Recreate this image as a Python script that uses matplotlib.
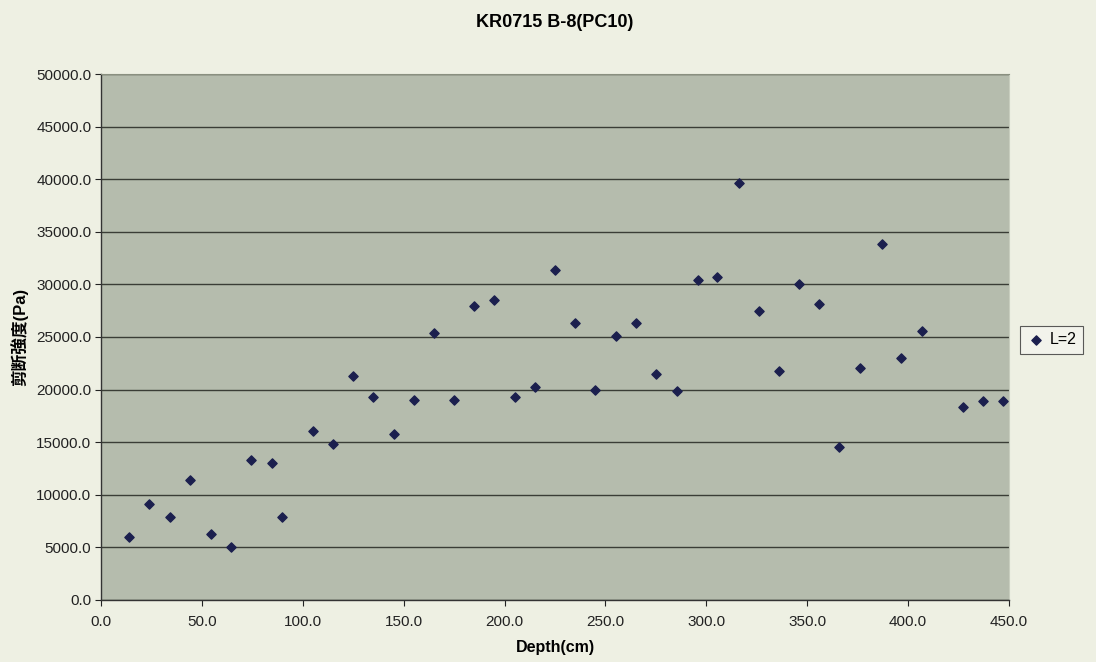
import matplotlib.pyplot as plt
from matplotlib.ticker import MultipleLocator, FormatStrFormatter

plt.rcParams['font.family'] = ['Liberation Sans', 'Noto Sans CJK JP', 'DejaVu Sans']

# depth (cm) and shear strength (Pa), vane L=2
depth = [14, 24, 34, 44, 54.5, 64.5, 74.5, 84.5, 89.5, 105, 115, 125, 135, 145,
         155, 165, 175, 185, 195, 205, 215, 225, 235, 245, 255, 265, 275, 285.5,
         296, 305.5, 316, 326, 336, 346, 356, 366, 376, 387, 396.5, 407, 427, 437, 447]
strength = [6000, 9170, 7900, 11400, 6300, 5060, 13300, 13000, 7900, 16100, 14850,
            21250, 19300, 15800, 19000, 25350, 19000, 27950, 28500, 19250, 20250,
            31400, 26300, 19950, 25050, 26300, 21500, 19900, 30400, 30700, 39650,
            27500, 21750, 30000, 28100, 14550, 22050, 33850, 23050, 25600, 18300,
            18900, 18900]

title = 'KR0715 B-8(PC10)'
series_name = 'L=2'

fig = plt.figure(figsize=(10.96, 6.62), dpi=100, facecolor='#eef0e3')
ax = fig.add_axes([0.0922, 0.0937, 0.8284, 0.7945])
ax.set_facecolor('#b5bcad')

ax.scatter(depth, strength, marker='D', s=22, color='#1b1f4e', zorder=3,
           label=series_name)

ax.set_xlim(0, 450)
ax.set_ylim(0, 50000)
ax.xaxis.set_major_locator(MultipleLocator(50))
ax.yaxis.set_major_locator(MultipleLocator(5000))
ax.xaxis.set_major_formatter(FormatStrFormatter('%.1f'))
ax.yaxis.set_major_formatter(FormatStrFormatter('%.1f'))
ax.tick_params(direction='out', length=4, width=0.8, labelsize=11,
               colors='#222222', pad=3)
ax.tick_params(axis='x', pad=7)

ax.grid(axis='y', color='#3a3d36', linewidth=1.0)
ax.set_axisbelow(True)
for side in ['left', 'bottom']:
    ax.spines[side].set_color('#333333')
    ax.spines[side].set_linewidth(1.0)
ax.spines['top'].set_color('#8a9080')
ax.spines['right'].set_color('#c8cebf')

ax.set_title(title, fontsize=13, fontweight='bold', pad=34)
ax.set_xlabel('Depth(cm)', fontsize=11.5, fontweight='bold', labelpad=8)
ax.set_ylabel('剪断強度(Pa)', fontsize=12, fontweight='bold', labelpad=6)

leg = ax.legend(loc='center left', bbox_to_anchor=(1.003, 0.495), fontsize=11.5,
                frameon=True, fancybox=False, handletextpad=0.3,
                borderpad=0.4, handlelength=1.2, markerscale=1.0)
leg.get_frame().set_edgecolor('#333333')
leg.get_frame().set_facecolor('#f4f5ee')
leg.get_frame().set_linewidth(0.8)

fig.savefig('out.png', dpi=100, facecolor=fig.get_facecolor())
